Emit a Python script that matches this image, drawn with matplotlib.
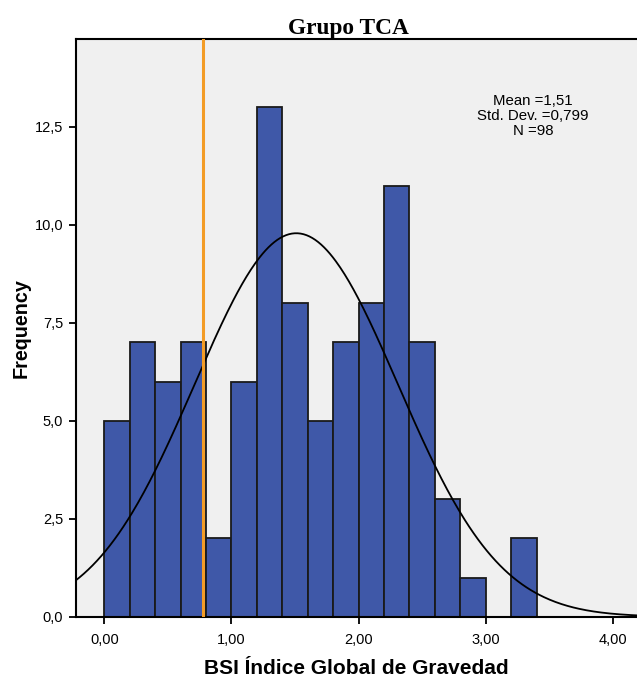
import matplotlib.pyplot as plt
import numpy as np

# histogram data (bin edges every 0.2 from 0.0 to 3.4)
bin_edges = [0.0, 0.2, 0.4, 0.6, 0.8, 1.0, 1.2, 1.4, 1.6, 1.8, 2.0, 2.2, 2.4, 2.6, 2.8, 3.0, 3.2, 3.4]
counts = [5, 7, 6, 7, 2, 6, 13, 8, 5, 7, 8, 11, 7, 3, 1, 0, 2]
mean_val = 1.51
std_val = 0.799
n_val = 98
cut_point = 0.776

x_ticks = [0, 1, 2, 3, 4]
x_ticklabels = ['0,00', '1,00', '2,00', '3,00', '4,00']
y_ticks = [0, 2.5, 5, 7.5, 10, 12.5]
y_ticklabels = ['0,0', '2,5', '5,0', '7,5', '10,0', '12,5']

plt.rcParams['font.family'] = ['Liberation Sans', 'DejaVu Sans']

fig = plt.figure(figsize=(6.37, 6.8), dpi=100)
ax = fig.add_axes([0.119, 0.093, 0.881, 0.8495])
ax.set_facecolor('#F0F0F0')

lefts = np.array(bin_edges[:-1])
widths = np.diff(bin_edges)
ax.bar(lefts, counts, width=widths, align='edge', color='#3F58A8',
       edgecolor='#1a1a1a', linewidth=1.3, zorder=2)

# fitted normal curve
xs = np.linspace(-0.3, 4.3, 400)
bw = 0.2
ys = n_val * bw / (std_val * np.sqrt(2 * np.pi)) * np.exp(-0.5 * ((xs - mean_val) / std_val) ** 2)
ax.plot(xs, ys, color='black', linewidth=1.3, zorder=3)

ax.axvline(cut_point, color='#F39C26', linewidth=2.2, zorder=4)

ax.set_xlim(-0.224, 4.19)
ax.set_ylim(0, 14.74)
ax.set_xticks(x_ticks)
ax.set_xticklabels(x_ticklabels, fontsize=10.5)
ax.set_yticks(y_ticks)
ax.set_yticklabels(y_ticklabels, fontsize=10.5)
ax.tick_params(direction='out', length=5, width=1.3, pad=4)
ax.tick_params(axis='x', pad=7)

for side in ['left', 'top', 'bottom']:
    ax.spines[side].set_linewidth(1.5)
ax.spines['right'].set_visible(False)

fig.text(348 / 637, 1 - 34 / 680, 'Grupo TCA', fontsize=16.8, fontweight='bold',
         family='Liberation Serif', ha='center', va='baseline')
ax.set_xlabel('BSI Índice Global de Gravedad', fontsize=15, fontweight='bold', labelpad=8)
ax.set_ylabel('Frequency', fontsize=14.2, fontweight='bold', labelpad=3)

ax.text(0.815, 0.867, 'Mean =1,51\nStd. Dev. =0,799\nN =98', transform=ax.transAxes,
        ha='center', va='center', fontsize=10.8, linespacing=1.08)

fig.savefig('out.png', dpi=100)
